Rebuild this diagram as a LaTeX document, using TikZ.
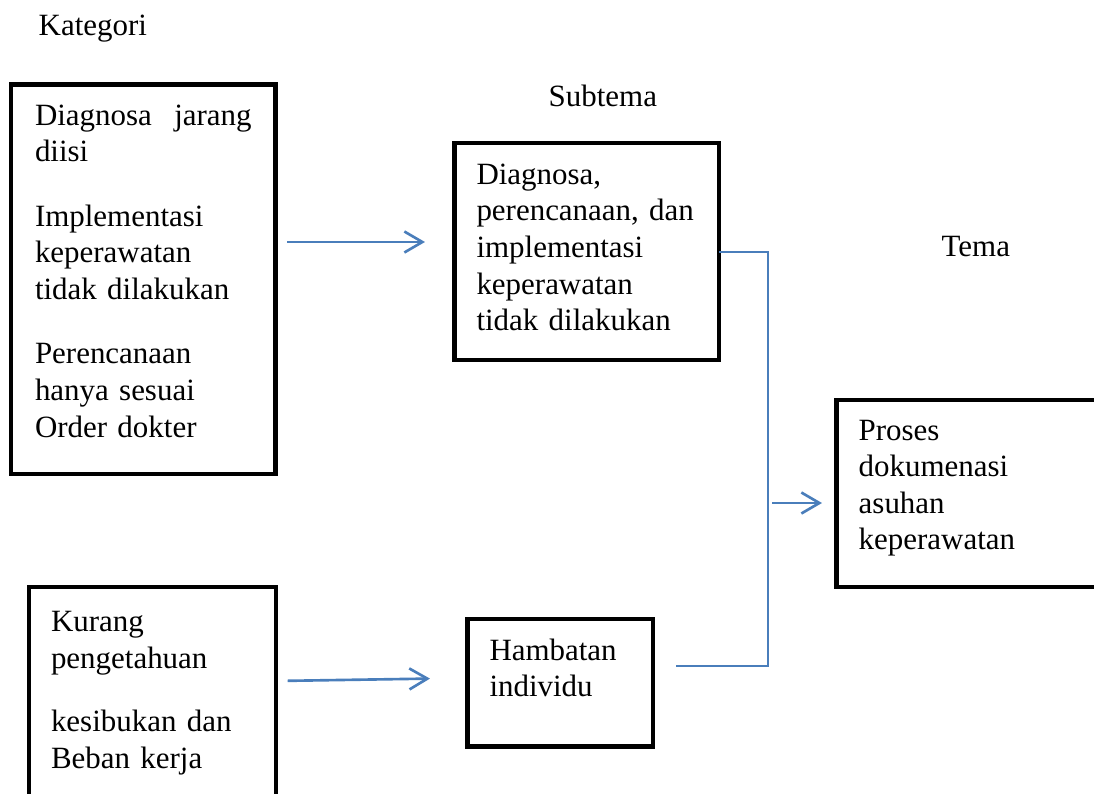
\documentclass[tikz,border=0pt]{standalone}
\usepackage{fontspec}
\setmainfont{Liberation Serif}
\usetikzlibrary{arrows.meta}
\definecolor{biru}{RGB}{74,126,187}

\begin{document}
\begin{tikzpicture}[x=0.01cm,y=-0.01cm,
  font=\fontsize{8.8}{10.4}\selectfont,
  kotak/.style={draw,line width=0.045cm,outer sep=0pt,anchor=north west,
    align=left,text height=0.22cm,inner xsep=0.22cm},
  judul/.style={anchor=base west,inner sep=0pt},
  garis/.style={biru,line width=0.6pt},
  panah/.style={garis,line width=0.75pt,-{Straight Barb[length=0.18cm,width=0.21cm]}}]
\useasboundingbox (0,0) rectangle (1094,794);
\node[judul] (kat) at (38,36) {Kategori};
\node[judul] (sub) at (548,106.7) {Subtema};
\node[judul] (tem) at (941,256.7) {Tema};
\node[kotak,inner xsep=0.24cm,inner ysep=0.185cm,text width=2.165cm,text depth=3.305cm] (ka) at (11,84.5)
  {Diagnosa \hfill jarang\\diisi\\[0.28cm]Implementasi\\keperawatan\\tidak dilakukan\\[0.28cm]Perencanaan\\hanya sesuai\\Order dokter};
\node[kotak,inner ysep=0.227cm,text width=2.03cm,text depth=2cm] (kb) at (29,587)
  {Kurang\\pengetahuan\\[0.27cm]kesibukan dan\\Beban kerja};
\node[kotak,inner ysep=0.193cm,text width=2.205cm,text depth=1.564cm] (sb) at (454.5,143)
  {Diagnosa,\\perencanaan, dan\\implementasi\\keperawatan\\tidak dilakukan};
\node[kotak,inner ysep=0.19cm,text width=1.415cm,text depth=0.675cm] (hi) at (467.5,619)
  {Hambatan\\individu};
\node[kotak,inner ysep=0.18cm,text width=3cm,text depth=1.29cm] (tm) at (836.7,400)
  {Proses\\dokumenasi\\asuhan\\keperawatan};
\coordinate (siku) at (768,666);
\coordinate (cabang) at (772,503);
\draw[panah,shorten <=0.115cm,shorten >=0.295cm] (ka.east |- 0,242) -- (sb.west |- 0,242);
\draw[panah,shorten <=0.115cm,shorten >=0.375cm] (kb.east |- 0,681) -- (hi.west |- 0,678);
\draw[garis] (sb.east) -| (siku) -- ([xshift=0.23cm]hi.east |- siku);
\draw[panah,shorten >=0.147cm] (cabang) -- (tm.west |- cabang);
\end{tikzpicture}
\end{document}
